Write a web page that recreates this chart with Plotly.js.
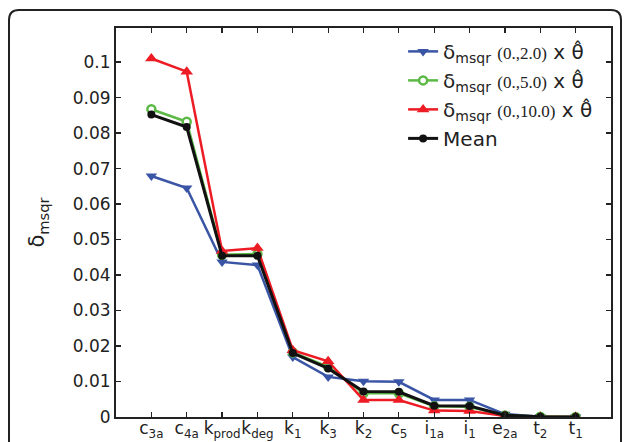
<!DOCTYPE html>
<html>
<head>
<meta charset="utf-8">
<script src="https://cdn.plot.ly/plotly-3.0.1.min.js"></script>
<style>html,body{margin:0;padding:0;background:#fff;}#chart{width:627px;height:442px;}</style>
</head>
<body>
<div id="chart"></div>
<script>
const categories = ['c<sub>3a</sub>','c<sub>4a</sub>','k<sub>prod</sub>','k<sub>deg</sub>','k<sub>1</sub>','k<sub>3</sub>','k<sub>2</sub>','c<sub>5</sub>','i<sub>1a</sub>','i<sub>1</sub>','e<sub>2a</sub>','t<sub>2</sub>','t<sub>1</sub>'];
const blueValues  = [0.0679, 0.0645, 0.0437, 0.0428, 0.0169, 0.0113, 0.0101, 0.0099, 0.0048, 0.0048, 0.0008, 0.0001, 0.0000];
const greenValues = [0.0867, 0.0832, 0.0457, 0.0459, 0.0182, 0.0141, 0.0067, 0.0067, 0.0030, 0.0029, 0.0004, 0.0001, 0.0000];
const redValues   = [0.1010, 0.0973, 0.0468, 0.0476, 0.0188, 0.0157, 0.0048, 0.0048, 0.0018, 0.0017, 0.0003, 0.0000, 0.0000];
const meanValues  = [0.0852, 0.0817, 0.0454, 0.0454, 0.0180, 0.0137, 0.0072, 0.0071, 0.0032, 0.0031, 0.0005, 0.0001, 0.0000];
const seriesNames = [
  'δ<sub>msqr</sub> <span style="font-family:Liberation Serif;font-size:17px">(0.,2.0)</span> x θ̂',
  'δ<sub>msqr</sub> <span style="font-family:Liberation Serif;font-size:17px">(0.,5.0)</span> x θ̂',
  'δ<sub>msqr</sub> <span style="font-family:Liberation Serif;font-size:17px">(0.,10.0)</span> x θ̂',
  'Mean'
];
const yTitle = 'δ<sub>msqr</sub>';

const font = 'DejaVu Sans';
const traces = [
  {x: categories, y: blueValues, name: seriesNames[0], mode: 'lines+markers',
   line: {color: '#3a55a5', width: 2.5}, marker: {symbol: 'triangle-down', size: 10, color: '#3a55a5'}},
  {x: categories, y: greenValues, name: seriesNames[1], mode: 'lines+markers',
   line: {color: '#5cb946', width: 2.5}, marker: {symbol: 'circle', size: 8, color: '#ffffff', line: {color: '#5cb946', width: 2.5}}},
  {x: categories, y: redValues, name: seriesNames[2], mode: 'lines+markers',
   line: {color: '#ed1c24', width: 2.5}, marker: {symbol: 'triangle-up', size: 11, color: '#ed1c24'}},
  {x: categories, y: meanValues, name: seriesNames[3], mode: 'lines+markers',
   line: {color: '#111111', width: 3}, marker: {symbol: 'circle', size: 8, color: '#111111'}}
];

const L = 116, T = 28, W = 495, H = 389;
function px(x){ return (x - L) / W; }
function py(y){ return (T + H - y) / H; }
const x0 = px(9), x1 = px(621), yt = py(10), yb = py(460);
const rx = 10 / W, ry = 10 / H;
const framePath = `M ${x0},${yb} L ${x0},${yt - ry} Q ${x0},${yt} ${x0 + rx},${yt} L ${x1 - rx},${yt} Q ${x1},${yt} ${x1},${yt - ry} L ${x1},${yb}`;

const layout = {
  width: 627, height: 442,
  margin: {l: L, r: 627 - L - W, t: T, b: 442 - T - H, pad: 0},
  paper_bgcolor: '#ffffff', plot_bgcolor: '#ffffff',
  font: {family: font, size: 17, color: '#222'},
  showlegend: true,
  legend: {x: 0.58, y: 0.99, xanchor: 'left', yanchor: 'top', bgcolor: 'rgba(0,0,0,0)',
           font: {family: font, size: 20, color: '#222'}, tracegroupgap: 0, itemwidth: 30},
  xaxis: {type: 'category', range: [-1, 13], showline: true, linecolor: '#222', linewidth: 2,
          mirror: 'ticks', ticks: 'inside', ticklen: 5, tickcolor: '#222', tickwidth: 1.2,
          tickangle: 0, ticklabelstandoff: -5,
          showgrid: false, zeroline: false, tickfont: {family: font, size: 17, color: '#222'}},
  yaxis: {range: [0, 0.1096], dtick: 0.01, tick0: 0, showline: true, linecolor: '#222', linewidth: 2,
          mirror: 'ticks', ticks: 'inside', ticklen: 5, tickcolor: '#222', tickwidth: 1.2,
          showgrid: false, zeroline: false, tickfont: {family: font, size: 17, color: '#222'},
          title: {text: yTitle, font: {family: font, size: 21, color: '#222'}, standoff: 22}},
  shapes: [{type: 'path', xref: 'paper', yref: 'paper', path: framePath,
            line: {color: '#222', width: 2}, layer: 'above'}]
};
Plotly.newPlot('chart', traces, layout, {displayModeBar: false, staticPlot: true});
</script>
</body>
</html>
